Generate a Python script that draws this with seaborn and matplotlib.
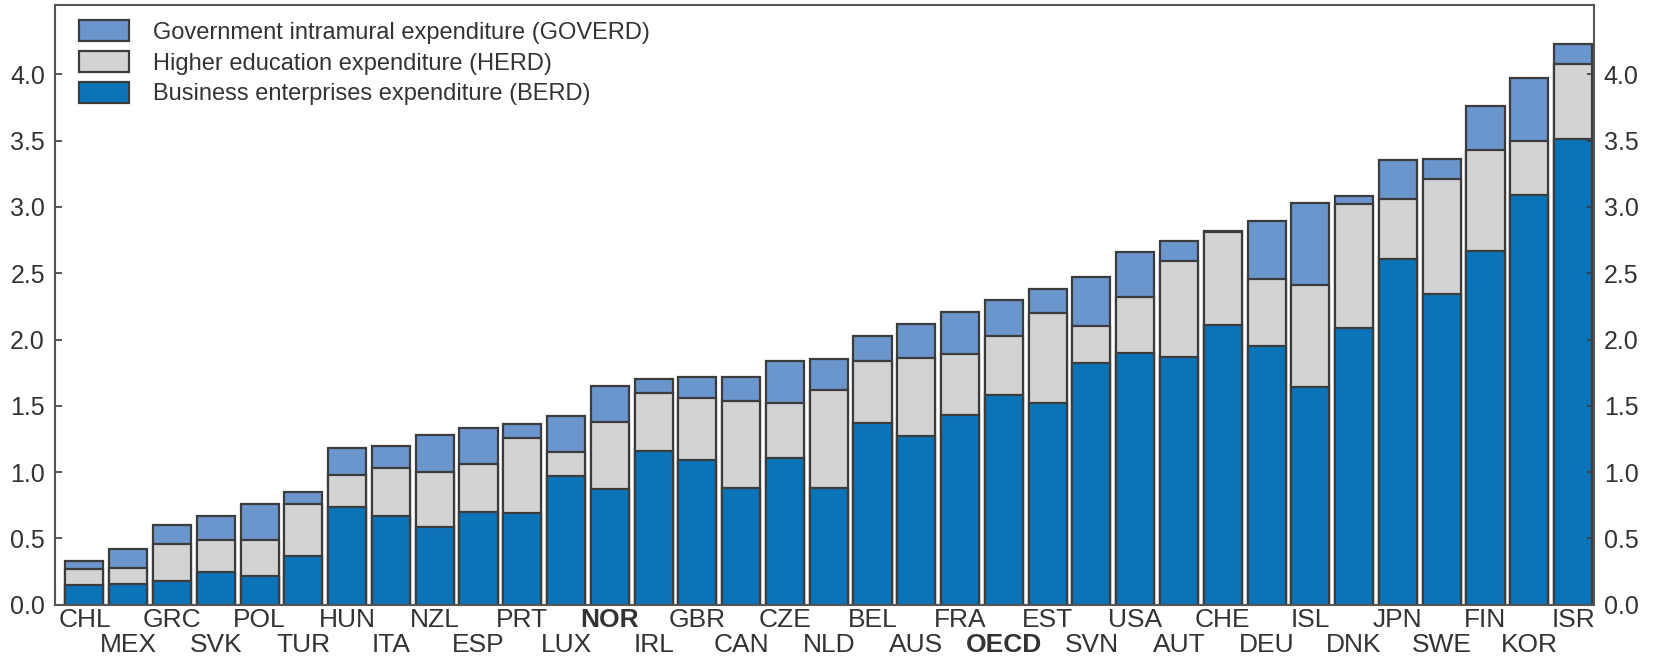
import numpy as np
import pandas as pd
import matplotlib
matplotlib.use("Agg")
import matplotlib.pyplot as plt
import seaborn as sns

# R&D expenditure by sector, % of GDP
countries = ["CHL", "MEX", "GRC", "SVK", "POL", "TUR", "HUN", "ITA", "NZL", "ESP",
             "PRT", "LUX", "NOR", "IRL", "GBR", "CAN", "CZE", "NLD", "BEL", "AUS",
             "FRA", "OECD", "EST", "SVN", "USA", "AUT", "CHE", "DEU", "ISL", "DNK",
             "JPN", "SWE", "FIN", "KOR", "ISR"]
berd = [0.15, 0.16, 0.18, 0.25, 0.22, 0.37, 0.74, 0.67, 0.59, 0.70,
        0.69, 0.97, 0.87, 1.16, 1.09, 0.88, 1.11, 0.88, 1.37, 1.27,
        1.43, 1.58, 1.52, 1.82, 1.90, 1.87, 2.11, 1.95, 1.64, 2.09,
        2.61, 2.34, 2.67, 3.09, 3.51]
herd = [0.12, 0.12, 0.28, 0.24, 0.27, 0.39, 0.24, 0.36, 0.41, 0.36,
        0.57, 0.18, 0.51, 0.44, 0.47, 0.66, 0.41, 0.74, 0.47, 0.59,
        0.46, 0.45, 0.68, 0.28, 0.42, 0.72, 0.70, 0.51, 0.77, 0.93,
        0.45, 0.87, 0.76, 0.41, 0.57]
goverd = [0.06, 0.14, 0.14, 0.18, 0.27, 0.09, 0.20, 0.17, 0.28, 0.27,
          0.10, 0.27, 0.27, 0.10, 0.16, 0.18, 0.32, 0.23, 0.19, 0.26,
          0.32, 0.27, 0.18, 0.37, 0.34, 0.15, 0.01, 0.43, 0.62, 0.06,
          0.29, 0.15, 0.33, 0.47, 0.15]

bold_labels = ["NOR", "OECD"]

df = pd.DataFrame({"country": countries, "BERD": berd, "HERD": herd, "GOVERD": goverd})
df["lvl1"] = df["BERD"]
df["lvl2"] = df["BERD"] + df["HERD"]
df["lvl3"] = df["lvl2"] + df["GOVERD"]

plt.rcParams["font.family"] = ["Liberation Sans", "DejaVu Sans"]

fig = plt.figure(figsize=(16.57, 6.61), dpi=100)
ax = fig.add_axes([0.033, 0.085, 0.929, 0.907])

edge = "#3c3c3c"
txt = "#333333"
common = dict(x="country", data=df, order=countries, width=0.87,
              edgecolor=edge, linewidth=1.6, ax=ax, saturation=1)
sns.barplot(y="lvl3", color="#6b95cd", label="Government intramural expenditure (GOVERD)", **common)
sns.barplot(y="lvl2", color="#d2d3d5", label="Higher education expenditure (HERD)", **common)
sns.barplot(y="lvl1", color="#0b74b9", label="Business enterprises expenditure (BERD)", **common)

ax.set_ylim(0, 4.52)
ax.set_xlim(-0.68, len(countries) - 1 + 0.48)
yt = np.arange(0, 4.01, 0.5)
ax.set_yticks(yt)
ax.set_yticklabels([f"{v:.1f}" for v in yt])
ax.tick_params(axis="y", direction="in", length=5, width=1.2, color=edge,
               labelsize=18, labelcolor=txt, right=True, labelright=True, pad=7)

# staggered country labels: even on first row, odd on second row
n = len(countries)
ax.set_xticks(range(0, n, 2))
ax.set_xticklabels(countries[0::2])
ax.set_xticks(range(1, n, 2), minor=True)
ax.set_xticklabels(countries[1::2], minor=True)
ax.tick_params(axis="x", which="major", length=0, labelsize=19, labelcolor=txt, pad=2)
ax.tick_params(axis="x", which="minor", length=0, labelsize=19, labelcolor=txt, pad=20)
for lab in ax.get_xticklabels() + ax.get_xticklabels(minor=True):
    if lab.get_text() in bold_labels:
        lab.set_fontweight("bold")

ax.set_xlabel("")
ax.set_ylabel("")
for s in ax.spines.values():
    s.set_color("#555555")
    s.set_linewidth(1.5)

leg = ax.legend(loc="upper left", frameon=False, fontsize=17, handlelength=2.1,
                handleheight=1.0, labelspacing=0.3, handletextpad=1.0,
                borderpad=0.0, borderaxespad=0.0, bbox_to_anchor=(0.016, 0.975))
for t in leg.get_texts():
    t.set_color(txt)

fig.savefig("out.png", dpi=100)
